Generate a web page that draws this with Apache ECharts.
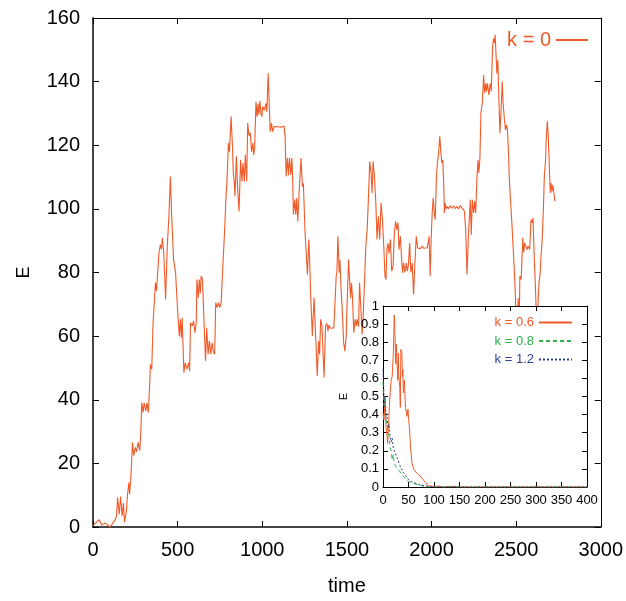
<!DOCTYPE html>
<html>
<head>
<meta charset="utf-8">
<script src="https://cdn.jsdelivr.net/npm/echarts@6/dist/echarts.min.js"></script>
<style>
html,body{margin:0;padding:0;background:#fff;}
#c{width:626px;height:601px;}
</style>
</head>
<body>
<div id="c"></div>
<script>
// ---- main series (k = 0) ----
var mainT = [0,37,51,70,100,123,139,145,155,163,172,180,186,198,204,212,216,223,229,233,241,250,257,267,276,282,288,296,302,312,319,327,335,339,347,355,369,375,381,390,398,404,410,418,429,439,449,457,465,476,488,492,502,510,516,522,527,537,545,555,565,571,576,586,594,602,610,614,622,628,634,639,647,655,665,672,680,688,696,704,712,719,725,733,741,749,757,769,776,786,792,800,806,816,824,829,835,839,847,855,863,872,880,886,894,900,908,914,922,929,937,945,949,955,963,969,975,980,986,992,998,1002,1012,1022,1027,1035,1041,1047,1055,1061,1071,1080,1090,1100,1110,1120,1129,1135,1141,1149,1155,1161,1169,1175,1180,1184,1192,1198,1204,1210,1218,1225,1229,1237,1243,1253,1267,1275,1280,1286,1296,1306,1316,1325,1333,1339,1345,1353,1365,1374,1382,1388,1394,1402,1412,1423,1429,1437,1441,1447,1455,1459,1465,1473,1481,1488,1496,1502,1510,1518,1522,1527,1533,1541,1549,1555,1561,1569,1575,1582,1590,1596,1604,1612,1620,1627,1635,1643,1649,1655,1663,1671,1678,1686,1694,1702,1710,1718,1725,1731,1737,1743,1749,1757,1765,1773,1780,1788,1796,1802,1808,1816,1822,1829,1835,1843,1851,1857,1863,1871,1878,1886,1894,1902,1910,1918,1925,1935,1945,1955,1965,1975,1982,1986,1992,1998,2004,2010,2016,2022,2029,2035,2041,2049,2055,2061,2067,2073,2076,2080,2086,2092,2100,2110,2120,2130,2140,2150,2160,2170,2180,2188,2194,2202,2210,2218,2223,2229,2235,2241,2249,2255,2261,2268,2275,2280,2286,2292,2300,2308,2314,2320,2325,2331,2339,2347,2353,2361,2367,2373,2376,2380,2386,2392,2398,2404,2412,2418,2423,2431,2437,2443,2449,2455,2461,2469,2476,2480,2484,2492,2500,2506,2512,2518,2522,2530,2539,2545,2551,2557,2565,2570,2580,2588,2594,2600,2606,2614,2622,2626,2629,2635,2641,2647,2653,2661,2667,2673,2678,2684,2690,2696,2702,2706,2712,2717,2723,2729];
var mainE = [0.4,2.3,0.6,1.3,0,1.6,3.3,9.3,4,9.6,3.5,7.5,1.5,5.1,10.3,14,10.3,15,21.3,26.6,22.4,25,23.6,26.6,24,29.2,39.1,36,39,36.5,39,36,44.9,51.1,49.6,64.2,76.8,74.1,73.5,86.2,88.8,87.3,90.9,86.2,71.5,88.3,98.2,110.2,97.7,84.1,79.9,75.7,66.3,60,65.3,59.5,65.8,48.5,51.7,49.6,51.7,49,64.2,63.2,64.7,61.1,64.2,77.8,72.1,77.8,73.5,78.9,77.8,65.8,52.2,62.6,54.3,58.5,54.3,57.9,55,54.3,70.5,69,70.5,69,70.5,84.1,91.4,103.9,109.2,120.7,118,129,119.6,111.3,108,104,116.5,106,99.2,115.4,108.7,114.4,108.5,117,108.7,127,123,124,118,120.7,117,119,133.7,129,133,129.6,134,130,129,132.2,131,133.2,130.5,142.6,133.2,124.3,127,124.3,125.9,126.5,125.8,126.3,125.7,126.2,126,122.8,110.2,116,110.5,116,110.7,116,108.9,98.2,102.9,98.2,103.4,96.1,105.5,105,116,107,108,92.5,79.4,90.4,84,73.1,60,72.1,59.5,47.5,58.5,54.3,65.3,63,47,63.2,64,61.6,63.5,62.5,63,62.6,63,78.9,80,91.4,79.9,84,75.7,67.9,57.9,55.3,60,71,84.1,75.7,72,76.8,72.4,61.1,65.3,63.2,65.3,63,76.8,69.4,60.5,66,76.8,88.3,93.5,102.9,114.9,111.3,105,114.9,110.2,101.9,90.4,97.7,90.4,101.9,96.6,88.3,78.9,77.8,87.7,89.2,86,90.4,80.4,82,91.9,96.1,93.5,95.6,87.2,91.4,85.6,79.9,83,80,83,80.4,82,89.3,80,83,73.1,83,91.4,87.7,88,87.5,88.3,87.6,88.2,87.8,88,91.4,78.9,90.4,98.7,103.4,99,96.6,110.2,114.4,117,122.8,118,114.4,115.4,106,98.7,101.9,100,100.8,100,101,100.2,100.9,100.1,100.8,100,101,100.3,100.8,99.4,93.5,79.4,91.4,96.6,102.9,91.9,102.9,98.7,102.4,98.7,109.2,115.4,111.3,115.9,130.1,133.2,142.1,136.4,139.5,136.9,139.5,135.8,139.5,136.9,151,153.6,152.1,154.7,150,142.6,146.8,134.8,123.8,132.2,140,133.2,128,124.8,126.4,124.8,117.6,108.1,100.8,94.5,94,86.2,77.8,66,58,72,62,78.9,77.8,90.9,86.2,89.3,88.3,87.2,88.3,87.2,96.6,95.6,97.2,86.2,75.7,62,58,70,76.8,79,85.1,89.3,99.8,110.7,114.4,121.7,127.5,122.8,113.3,105,108.1,105.5,107.6,105,102.4];

// ---- inset series ----
var k06T = [0,2,4,6,8,9,11,13,14,16,18,20,21,22,23.5,25,26,27,29,30,31,33,34,35,37,38,39,40,42,44,46,47,49,51,52,54,57,60,65,73,83,89,100,110,120,135,150,400];
var k06E = [0.41,0.37,0.5,0.33,0.28,0.24,0.35,0.48,0.52,0.59,0.61,0.72,0.81,0.95,0.83,0.68,0.79,0.72,0.59,0.74,0.61,0.55,0.44,0.76,0.74,0.61,0.65,0.52,0.59,0.44,0.41,0.39,0.43,0.35,0.32,0.22,0.13,0.1,0.08,0.06,0.026,0.007,0.003,0.005,0,0.004,0,0];
var k08T = [0,2,4,6,8,10,12,14,16,18,20,22,25,28,32,36,40,45,50,55,60,70,80,90,400];
var k08E = [0.58,0.45,0.5,0.38,0.35,0.3,0.28,0.22,0.2,0.15,0.18,0.13,0.14,0.1,0.09,0.07,0.06,0.04,0.03,0.025,0.02,0.01,0.005,0,0];
var k12T = [0,2,4,6,8,10,12,14,16,18,20,22,25,28,30,33,36,40,45,50,55,60,70,80,90,100,400];
var k12E = [0.65,0.5,0.45,0.4,0.38,0.33,0.35,0.28,0.25,0.27,0.22,0.2,0.21,0.16,0.15,0.12,0.1,0.08,0.06,0.04,0.03,0.025,0.015,0.008,0.003,0,0];

var mainName = 'k = 0';
var insetNames = ['k = 0.6', 'k = 0.8', 'k = 1.2'];
var xName = 'time', yName = 'E';

function pairs(t, e){ return t.map(function(v,i){ return [v, e[i]]; }); }
function plain(v){ return String(Math.round(v * 1000) / 1000); }

var RED = '#f05a28', GREEN = '#2bb24c', BLUE = '#2c3e97';
var FONT = 'Liberation Sans, Arial, sans-serif';

function axisCommon(extra){
  var base = {
    type: 'value',
    splitLine: {show: false},
    axisLine: {show: true, onZero: false, lineStyle: {color: '#000', width: 1}},
    axisTick: {show: true, inside: true, length: 6, lineStyle: {color: '#000'}},
    axisLabel: {show: false, color: '#000', fontFamily: FONT}
  };
  for (var k in extra) base[k] = extra[k];
  return base;
}

var chart = echarts.init(document.getElementById('c'), null, {renderer: 'canvas'});
chart.setOption({
  animation: false,
  backgroundColor: '#fff',
  grid: [
    {left: 93, top: 18, width: 510, height: 510, show: false},
    {left: 383, top: 306, width: 204, height: 181, show: true, backgroundColor: '#fff', borderWidth: 0, z: 5}
  ],
  xAxis: [
    axisCommon({gridIndex: 0, position: 'bottom', min: 0, max: 3000, interval: 500,
      axisLine: {show: true, onZero: false, lineStyle: {color: '#444', width: 2}},
      axisLabel: {show: true, color: '#000', fontFamily: FONT, fontSize: 20, margin: 13, formatter: plain},
      name: xName, nameLocation: 'middle', nameGap: 49,
      nameTextStyle: {color: '#000', fontFamily: FONT, fontSize: 20}}),
    axisCommon({gridIndex: 0, position: 'top', min: 0, max: 3000, interval: 500}),
    axisCommon({gridIndex: 1, position: 'bottom', min: 0, max: 400, interval: 50, z: 6,
      axisTick: {show: true, inside: true, length: 5, lineStyle: {color: '#000'}},
      axisLabel: {show: true, color: '#000', fontFamily: FONT, fontSize: 13, margin: 7, formatter: plain}}),
    axisCommon({gridIndex: 1, position: 'top', min: 0, max: 400, interval: 50, z: 6,
      axisTick: {show: true, inside: true, length: 5, lineStyle: {color: '#000'}}})
  ],
  yAxis: [
    axisCommon({gridIndex: 0, position: 'left', min: 0, max: 160, interval: 20,
      axisLine: {show: true, onZero: false, lineStyle: {color: '#444', width: 2}},
      axisLabel: {show: true, color: '#000', fontFamily: FONT, fontSize: 20, margin: 13, formatter: plain},
      name: yName, nameLocation: 'middle', nameGap: 60,
      nameTextStyle: {color: '#000', fontFamily: FONT, fontSize: 18}}),
    axisCommon({gridIndex: 0, position: 'right', min: 0, max: 160, interval: 20}),
    axisCommon({gridIndex: 1, position: 'left', min: 0, max: 1, interval: 0.1, z: 6,
      axisTick: {show: true, inside: true, length: 5, lineStyle: {color: '#000'}},
      axisLabel: {show: true, color: '#000', fontFamily: FONT, fontSize: 13, margin: 4, formatter: plain},
      name: yName, nameLocation: 'middle', nameGap: 34,
      nameTextStyle: {color: '#000', fontFamily: FONT, fontSize: 11}}),
    axisCommon({gridIndex: 1, position: 'right', min: 0, max: 1, interval: 0.1, z: 6,
      axisTick: {show: true, inside: true, length: 5, lineStyle: {color: '#000'}}})
  ],
  legend: [
    {
      data: [{name: mainName, textStyle: {color: RED}}],
      right: 37, top: 30, align: 'right', orient: 'vertical',
      itemWidth: 32, itemHeight: 14, padding: 0,
      itemStyle: {opacity: 0},
      textStyle: {fontFamily: FONT, fontSize: 20}
    },
    {
      data: [
        {name: insetNames[0], textStyle: {color: RED}},
        {name: insetNames[1], textStyle: {color: GREEN}},
        {name: insetNames[2], textStyle: {color: BLUE}}
      ],
      right: 53, top: 316, align: 'right', orient: 'vertical',
      itemWidth: 33, itemHeight: 10, itemGap: 5.5, padding: 0, z: 8,
      itemStyle: {opacity: 0},
      textStyle: {fontFamily: FONT, fontSize: 13}
    }
  ],
  series: [
    {name: mainName, type: 'line', xAxisIndex: 0, yAxisIndex: 0, data: pairs(mainT, mainE),
      showSymbol: false, symbol: 'none', z: 2,
      lineStyle: {color: RED, width: 1.1}, itemStyle: {color: RED}},
    {name: insetNames[0], type: 'line', xAxisIndex: 2, yAxisIndex: 2, data: pairs(k06T, k06E),
      showSymbol: false, symbol: 'none', z: 7,
      lineStyle: {color: RED, width: 1}, itemStyle: {color: RED}},
    {name: insetNames[1], type: 'line', xAxisIndex: 2, yAxisIndex: 2, data: pairs(k08T, k08E),
      showSymbol: false, symbol: 'none', z: 7,
      lineStyle: {color: GREEN, width: 1, type: [4, 3]}, itemStyle: {color: GREEN}},
    {name: insetNames[2], type: 'line', xAxisIndex: 2, yAxisIndex: 2, data: pairs(k12T, k12E),
      showSymbol: false, symbol: 'none', z: 7,
      lineStyle: {color: BLUE, width: 1, type: [2, 2]}, itemStyle: {color: BLUE}}
  ]
});
</script>
</body>
</html>
